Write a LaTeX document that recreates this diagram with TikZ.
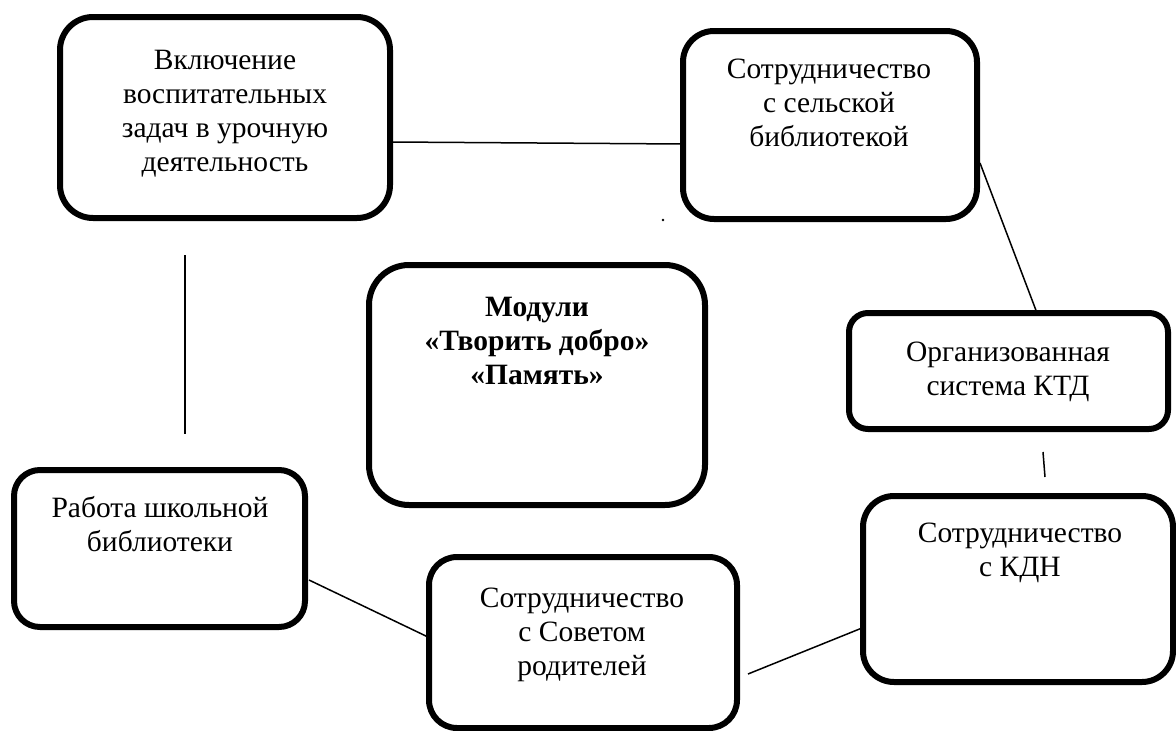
\documentclass[tikz,border=0pt]{standalone}
\usepackage{fontspec}
\setmainfont{Liberation Serif}
\begin{document}
\begin{tikzpicture}[x=1pt,y=-1pt,
  box/.style={draw, line width=6pt, inner sep=0pt, outer sep=0pt},
  txt/.style={inner sep=0pt, align=center, anchor=north, font=\fontsize{29.5}{34}\selectfont},
  link/.style={line width=1.5pt}]
\useasboundingbox (0,0) rectangle (1176,731);
\fill[white] (0,0) rectangle (1176,731);

% boxes
\node[box, minimum width=330pt, minimum height=201pt, rounded corners=33pt] (b1) at (225,117.5) {};
\node[box, minimum width=294pt, minimum height=188pt, rounded corners=31pt] (b2) at (830,125) {};
\node[box, minimum width=336pt, minimum height=240pt, rounded corners=40pt] (b3) at (537,385) {};
\node[box, minimum width=319pt, minimum height=116pt, rounded corners=19pt] (b4) at (1008.5,371) {};
\node[box, minimum width=291pt, minimum height=157pt, rounded corners=26pt] (b5) at (159.5,548.5) {};
\node[box, minimum width=308pt, minimum height=171pt, rounded corners=28pt] (b6) at (583,642.5) {};
\node[box, minimum width=310pt, minimum height=186pt, rounded corners=31pt] (b7) at (1018,589) {};

% texts
\node[txt] (t1) at (225,45) {\strut Включение\\воспитательных\\задач в урочную\\деятельность};
\node[txt] (t2) at (829,54) {\strut Сотрудничество\\с сельской\\библиотекой};
\node[txt, font=\fontsize{29.5}{34}\selectfont\bfseries] (t3) at (537,292) {\strut Модули\\«Творить добро»\\«Память»};
\node[txt] (t4) at (1008,337) {\strut Организованная\\система КТД};
\node[txt] (t5) at (160,493) {\strut Работа школьной\\библиотеки};
\node[txt] (t6) at (582,583) {\strut Сотрудничество\\с Советом\\родителей};
\node[txt] (t7) at (1020,518) {\strut Сотрудничество\\с КДН};

% connector end points
\coordinate (p1a) at (392,142);
\coordinate (p1b) at (683,144);
\coordinate (p2a) at (980,163);
\coordinate (p2b) at (1037,313);
\coordinate (p3a) at (185,255);
\coordinate (p3b) at (185,434);
\coordinate (p4a) at (1043,452);
\coordinate (p4b) at (1045,477);
\coordinate (p5a) at (309,580);
\coordinate (p5b) at (428,637);
\coordinate (p6a) at (748,674);
\coordinate (p6b) at (862,628);
\coordinate (dot) at (663,220);

\draw[link] (p1a) -- (p1b);
\draw[link] (p2a) -- (p2b);
\draw[link] (p3a) -- (p3b);
\draw[link] (p4a) -- (p4b);
\draw[link] (p5a) -- (p5b);
\draw[link] (p6a) -- (p6b);
\fill (dot) circle (1.4pt);
\end{tikzpicture}
\end{document}
